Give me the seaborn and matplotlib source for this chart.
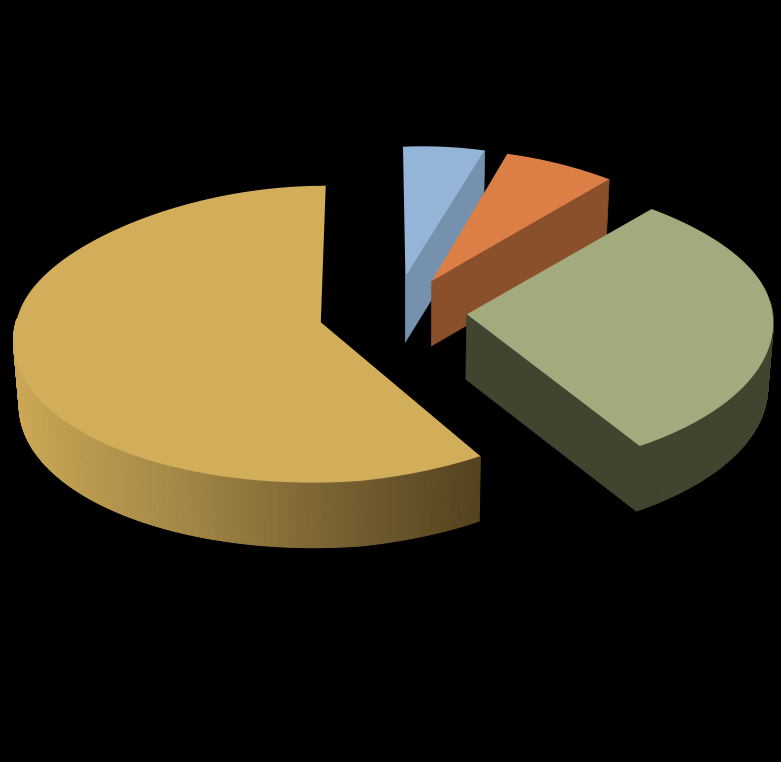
import numpy as np
import matplotlib
matplotlib.use("Agg")
import matplotlib.pyplot as plt
import seaborn as sns

# slice shares, clockwise from 12 o'clock
values = [5.5, 7, 29.2, 58.3]
explode = [0.245, 0.245, 0.245, 0.245]
top_colors = ["#94B4D8", "#DB7F46", "#A2AA7E", "#D2AE5A"]
side_colors = ["#7691AE", "#8A4F2B", "#41442E", None]
gold_side = ["#CBA755", "#A68A48", "#7B6434", "#54431F"]


def project(x, y, drop=0.0):
    # tilt the flat pie: far side gets smaller, right side sits a bit higher
    w = 1 + 0.1 * y + 0.1 * np.maximum(y, 0) ** 2
    px = 393 + 303 * x / w - 7 * np.maximum(y, 0) * (x < -0.1)
    py = 313 - 146 * y / (1 + 0.08 * y) - 10 * np.maximum(x + 0.1, 0)
    if drop:
        px = 400 + (px - 400) * 0.985
        py = py + drop
    return px, py


def outline(wedge):
    t = np.radians(np.linspace(wedge.theta1, wedge.theta2, 400))
    cx, cy = wedge.center
    return cx + wedge.r * np.cos(t), cy + wedge.r * np.sin(t), cx, cy


sns.set_style("dark")
fig = plt.figure(figsize=(7.81, 7.62), dpi=100, facecolor="black")
ax = fig.add_axes([0, 0, 1, 1])

wedges, _ = ax.pie(values, explode=explode, startangle=90, counterclock=False)
shapes = [outline(w) for w in wedges]
for w in wedges:
    w.remove()

ax.set_aspect("auto")
ax.set_xlim(0, 781)
ax.set_ylim(762, 0)
ax.set_facecolor("black")
ax.axis("off")

gradient = sns.blend_palette(gold_side, n_colors=200)
depth = 65

# back to front, the orange and green slices cover the ones behind them
for i in [3, 0, 1, 2]:
    arc_x, arc_y, cx, cy = shapes[i]
    tx, ty = project(arc_x, arc_y)
    bx, by = project(arc_x, arc_y, drop=depth)
    apex_x, apex_y = project(np.array([cx]), np.array([cy]))
    low_x, low_y = project(np.array([cx]), np.array([cy]), drop=depth)

    # only the clockwise cut face can be seen, and not on the gold slice
    if side_colors[i] is not None:
        ax.fill([apex_x[0], tx[0], bx[0], low_x[0]],
                [apex_y[0], ty[0], by[0], low_y[0]],
                color=side_colors[i], lw=0.5, zorder=i + 1)

    # rim, skipping the part that faces away
    for j in range(len(tx) - 1):
        if arc_y[j] > cy + 0.02:
            continue
        quad_x = [tx[j], tx[j + 1], bx[j + 1], bx[j]]
        quad_y = [ty[j], ty[j + 1], by[j + 1], by[j]]
        if side_colors[i] is None:
            pos = (tx[j] + tx[j + 1]) / 2
            c = gradient[int(np.clip((pos - 15) / 465, 0, 1) * 199)]
        else:
            c = side_colors[i]
        ax.fill(quad_x, quad_y, color=c, lw=0.8, zorder=i + 1.2)

    ax.fill(np.r_[apex_x, tx], np.r_[apex_y, ty], color=top_colors[i], lw=0, zorder=i + 1.5)

fig.savefig("out.png", dpi=100, facecolor="black")
